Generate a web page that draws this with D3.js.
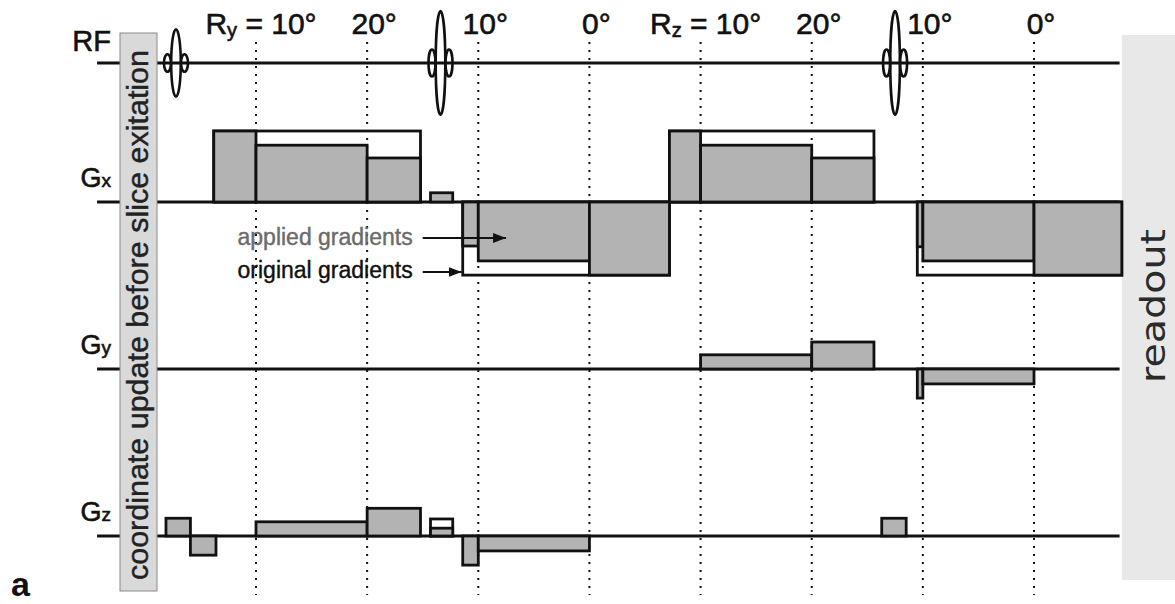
<!DOCTYPE html>
<html>
<head>
<meta charset="utf-8">
<script src="https://cdn.jsdelivr.net/npm/d3@7"></script>
<style>
  body { margin: 0; background: #fff; }
  svg { display: block; }
</style>
</head>
<body>
<div id="chart"></div>
<script>
// sequence rows and timing (time unit = one rotation-angle step)
const channels = ["RF", "Gx", "Gy", "Gz"];
const channelSubs = ["", "x", "y", "z"];

const rfTimes = [1.28, 3.66, 7.75];
const rfAmps = [0.65, 1.0, 1.0];

const angleTimes = [2, 3, 4, 5, 6, 7, 8, 9];
const angleLabels = ["10°", "20°", "10°", "0°", "10°", "20°", "10°", "0°"];
const rotationStarts = [2, 6];
const rotationAxes = ["y", "z"];

// gradient lobes: [start, end, amplitude]
const gxOriginal = [[1.62, 3.48, 1.0], [3.86, 5.72, -1.03], [5.72, 7.56, 1.0], [7.95, 9.79, -1.03]];
const gxApplied = [
  [1.62, 2, 1.0], [2, 3, 0.80], [3, 3.48, 0.62], [3.57, 3.77, 0.13],
  [3.86, 4, -0.62], [4, 5, -0.83], [5, 5.72, -1.03],
  [5.72, 6, 1.0], [6, 7, 0.80], [7, 7.56, 0.62],
  [7.95, 8, -0.63], [8, 9, -0.83], [9, 9.79, -1.03]
];
const gyOriginal = [];
const gyApplied = [[6, 7, 0.20], [7, 7.56, 0.38], [7.95, 8, -0.41], [8, 9, -0.21]];
const gzOriginal = [[3.57, 3.77, 0.24]];
const gzApplied = [
  [1.19, 1.41, 0.25], [1.41, 1.64, -0.27], [2, 3, 0.20], [3, 3.48, 0.39],
  [3.57, 3.77, 0.11], [3.86, 4, -0.41], [4, 5, -0.21], [7.63, 7.85, 0.25]
];

const width = 1175, height = 604;
const font = "'Liberation Sans', Arial, sans-serif";
const ink = "#111";
const grey = "#b3b3b3";

const svg = d3.select("#chart").append("svg")
  .attr("width", width)
  .attr("height", height);

const defs = svg.append("defs");
defs.append("marker")
  .attr("id", "head")
  .attr("markerUnits", "userSpaceOnUse")
  .attr("markerWidth", 14).attr("markerHeight", 10)
  .attr("refX", 13).attr("refY", 5)
  .attr("orient", "auto")
  .append("path")
  .attr("d", "M0,0 L13,5 L0,10 z")
  .attr("fill", ink);

// scales
const x = d3.scaleLinear().domain([2, 9]).range([256, 1034]);
const amp = d3.scaleLinear().domain([-1, 1]).range([71, -71]);
const rf = d3.scaleLinear().domain([0, 1]).range([0, 52]);
const rowY = { RF: 63, Gx: 202, Gy: 369, Gz: 536 };
const lineStart = 0.57, lineEnd = 9.77;

// slightly heavier text, like the scanned figure
const heavy = (sel, c) => sel.attr("fill", c).attr("stroke", c).attr("stroke-width", 0.6);

// readout box
svg.append("rect")
  .attr("x", x(9.79)).attr("y", 35)
  .attr("width", width - x(9.79)).attr("height", 545)
  .attr("fill", "#e8e8e8");

// dotted angle markers
svg.append("g").selectAll("line")
  .data(angleTimes)
  .join("line")
  .attr("x1", d => x(d)).attr("x2", d => x(d))
  .attr("y1", 42).attr("y2", 595)
  .attr("stroke", ink)
  .attr("stroke-width", 2)
  .attr("stroke-dasharray", "2,6");

// baselines
svg.append("g").selectAll("line")
  .data(channels)
  .join("line")
  .attr("x1", x(lineStart)).attr("x2", x(lineEnd))
  .attr("y1", d => rowY[d]).attr("y2", d => rowY[d])
  .attr("stroke", ink)
  .attr("stroke-width", 3);

// channel labels
const lab = svg.append("g").selectAll("text")
  .data(channels)
  .join("text")
  .attr("x", 111)
  .attr("y", d => d === "RF" ? rowY[d] - 12 : rowY[d] - 15)
  .attr("text-anchor", "end")
  .attr("font-family", font)
  .attr("font-size", d => d === "RF" ? 29 : 27)
  .text(d => d[0] === "G" ? "G" : d);
heavy(lab, ink);
lab.filter(d => d[0] === "G")
  .append("tspan")
  .attr("font-size", 19)
  .text(d => channelSubs[channels.indexOf(d)]);

// gradient lobes
const lobe = (a) => ({ y: amp(Math.max(a, 0)), h: Math.abs(amp(a) - amp(0)) });
const drawLobes = (data, row, fill) => {
  svg.append("g").selectAll("rect")
    .data(data)
    .join("rect")
    .attr("x", d => x(d[0]))
    .attr("width", d => x(d[1]) - x(d[0]))
    .attr("y", d => rowY[row] + lobe(d[2]).y)
    .attr("height", d => lobe(d[2]).h)
    .attr("fill", fill)
    .attr("stroke", ink)
    .attr("stroke-width", 2.8)
    .attr("stroke-linejoin", "miter");
};
drawLobes(gxOriginal, "Gx", "none");
drawLobes(gyOriginal, "Gy", "none");
drawLobes(gzOriginal, "Gz", "none");
drawLobes(gxApplied, "Gx", grey);
drawLobes(gyApplied, "Gy", grey);
drawLobes(gzApplied, "Gz", grey);

// RF pulses: main lobe plus side lobes
const pulses = svg.append("g").attr("fill", "none").attr("stroke", ink).attr("stroke-width", 2.6);
rfTimes.forEach((t, i) => {
  const cx = x(t), cy = rowY.RF;
  pulses.append("ellipse")
    .attr("cx", cx).attr("cy", cy)
    .attr("rx", 4.8).attr("ry", rf(rfAmps[i]));
  [-1, 1].forEach(s => {
    pulses.append("ellipse")
      .attr("cx", cx + s * 8.5).attr("cy", cy)
      .attr("rx", 3.5).attr("ry", rf(rfAmps[i]) * 0.26);
  });
});

// angle labels on top
const angleText = svg.append("g").selectAll("text")
  .data(angleTimes.filter(d => !rotationStarts.includes(d)))
  .join("text")
  .attr("x", d => x(d) + 7)
  .attr("y", 34)
  .attr("text-anchor", "middle")
  .attr("font-family", font)
  .attr("font-size", 30)
  .text(d => angleLabels[angleTimes.indexOf(d)]);
heavy(angleText, ink);

rotationStarts.forEach((t, i) => {
  const txt = svg.append("text")
    .attr("x", x(t) + 5)
    .attr("y", 34)
    .attr("text-anchor", "middle")
    .attr("font-family", font)
    .attr("font-size", 30);
  heavy(txt, ink);
  txt.append("tspan").text("R");
  txt.append("tspan").attr("font-size", 20).attr("dy", 3).text(rotationAxes[i]);
  txt.append("tspan").attr("dy", -3).text(" = " + angleLabels[angleTimes.indexOf(t)]);
});

// annotation of applied vs original gradients
const notes = [
  { text: "applied gradients", color: "#6b6b6b", y: 245, ay: 238, to: 4.25 },
  { text: "original gradients", color: ink, y: 278, ay: 272, to: 3.85 }
];
notes.forEach(n => {
  const t = svg.append("text")
    .attr("x", x(3.41)).attr("y", n.y)
    .attr("text-anchor", "end")
    .attr("font-family", font)
    .attr("font-size", 23)
    .text(n.text);
  heavy(t, n.color).attr("stroke-width", 0.4);
  svg.append("line")
    .attr("x1", x(3.5)).attr("x2", x(n.to))
    .attr("y1", n.ay).attr("y2", n.ay)
    .attr("stroke", ink)
    .attr("stroke-width", 2.2)
    .attr("marker-end", "url(#head)");
});

// coordinate update box
svg.append("rect")
  .attr("x", 120).attr("y", 33)
  .attr("width", 37).attr("height", 558)
  .attr("fill", "#d9d9d9")
  .attr("stroke", "#8a8a8a")
  .attr("stroke-width", 1);
const coord = svg.append("text")
  .attr("transform", "translate(148,315) rotate(-90)")
  .attr("text-anchor", "middle")
  .attr("font-family", font)
  .attr("font-size", 29)
  .attr("textLength", 530)
  .attr("lengthAdjust", "spacingAndGlyphs")
  .text("coordinate update before slice exitation");
heavy(coord, "#222").attr("stroke-width", 0.4);

// readout label
svg.append("text")
  .attr("transform", "translate(1165,306) rotate(-90)")
  .attr("text-anchor", "middle")
  .attr("font-family", "'DejaVu Sans', sans-serif")
  .attr("font-size", 34)
  .attr("textLength", 154)
  .attr("lengthAdjust", "spacingAndGlyphs")
  .attr("fill", "#2a2a2a")
  .text("readout");

// panel letter
svg.append("text")
  .attr("x", 11).attr("y", 596)
  .attr("font-family", font)
  .attr("font-weight", "bold")
  .attr("font-size", 34)
  .attr("fill", ink)
  .text("a");
</script>
</body>
</html>
